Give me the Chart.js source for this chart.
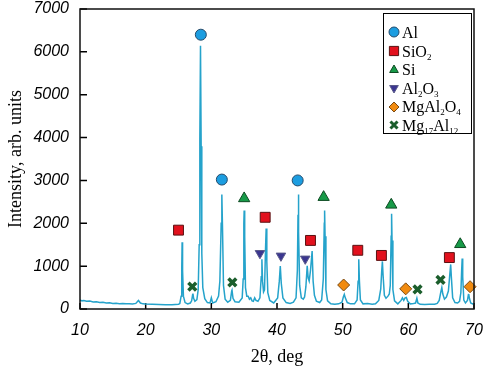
<!DOCTYPE html>
<html>
<head>
<meta charset="utf-8">
<script src="https://cdn.jsdelivr.net/npm/chart.js@4.4.1/dist/chart.umd.min.js"></script>
<style>
  html, body { margin: 0; padding: 0; background: #fff; }
  #wrap { position: relative; width: 483px; height: 368px; }
  #legend {
    position: absolute; left: 383px; top: 13px; width: 89px; height: 121px;
    border: 1px solid #000; background: #fff;
    font-family: "Liberation Serif", serif; font-size: 16px; color: #000;
    padding-top: 10px; box-sizing: border-box;
  }
  #legend div { height: 18.6px; line-height: 18px; white-space: nowrap; }
  #legend canvas { vertical-align: middle; margin: 0 2px 0 4px; position: relative; top: -2px; }
  #legend sub { font-size: 9px; vertical-align: -3px; line-height: 0; }
</style>
</head>
<body>
<div id="wrap">
  <canvas id="output" width="483" height="368"></canvas>
  <div id="legend"></div>
</div>
<script>
// measured profile, 2θ (deg) and intensity (arb. units)
const twoTheta = [
  10.0, 10.3, 10.6, 11.0, 11.5, 12.0, 12.5, 13.0, 13.5, 14.0, 14.5, 15.0, 15.5, 16.0, 16.5, 17.0, 17.5, 18.0, 18.5, 18.9,
  19.2, 19.6, 20.0, 21.0, 22.0, 23.0, 24.0, 25.0, 25.2, 25.4, 25.5, 25.55, 25.62, 25.75, 26.0, 26.4,
  26.8, 27.0, 27.15, 27.2, 27.3, 27.5, 27.8, 28.0, 28.15, 28.25, 28.35, 28.45, 28.55, 28.7, 29.0, 29.4,
  29.8, 30.0, 30.2, 30.7, 31.1, 31.3, 31.5, 31.6, 31.7, 31.85, 32.1, 32.5, 32.9, 33.1, 33.15, 33.3, 33.6,
  34.2, 34.7, 34.85, 34.95, 35.0, 35.08, 35.2, 35.4, 35.6, 35.8, 36.0, 36.2, 36.4, 36.6, 36.8, 37.1,
  37.4, 37.6, 37.7, 37.8, 37.95, 38.1, 38.25, 38.35, 38.45, 38.6, 38.9, 39.5, 40.1, 40.35, 40.5, 40.65, 40.9,
  41.4, 42.0, 42.5, 42.9, 43.1, 43.2, 43.25, 43.32, 43.45, 43.7, 44.0, 44.2, 44.4, 44.6, 44.75, 44.9,
  45.1, 45.35, 45.5, 45.7, 46.0, 46.5, 46.8, 47.05, 47.2, 47.25, 47.32, 47.45, 47.7, 48.2, 48.8, 49.4,
  49.9, 50.1, 50.25, 50.4, 50.7, 51.2, 51.8, 52.2, 52.35, 52.45, 52.55, 52.7, 53.1, 53.8, 54.5, 55.0,
  55.5, 55.8, 55.95, 56.05, 56.15, 56.35, 56.6, 56.9, 57.1, 57.25, 57.38, 57.45, 57.52, 57.65, 57.9, 58.4,
  58.9, 59.1, 59.3, 59.5, 59.7, 59.9, 60.3, 60.8, 61.1, 61.3, 61.45, 61.8, 62.5, 63.2, 64.0, 64.4,
  64.7, 64.95, 65.1, 65.25, 65.5, 65.8, 66.1, 66.3, 66.45, 66.55, 66.75, 67.1, 67.5, 67.8, 68.0, 68.12,
  68.2, 68.28, 68.45, 68.7, 69.0, 69.15, 69.2, 69.3, 69.5, 69.8, 70.0
];
const intensity = [
  210, 190, 200, 180, 185, 165, 170, 150, 155, 140, 145, 130, 135, 125, 130, 120, 125, 115, 130, 200,
  140, 120, 115, 110, 105, 100, 100, 110, 130, 300, 1000, 1560, 900, 300, 150, 120,
  140, 190, 330, 360, 250, 180, 220, 450, 1500, 4000, 6140, 3800, 1300, 500, 240, 150,
  140, 260, 140, 170, 300, 650, 2000, 2670, 1900, 550, 230, 160, 200, 420, 440, 250, 170,
  160, 260, 700, 2000, 2300, 1700, 500, 300, 300, 230, 260, 190, 180, 260, 200, 180,
  260, 750, 1160, 650, 400, 450, 1400, 1880, 1100, 380, 200, 140, 260, 650, 1000, 600, 260,
  150, 130, 160, 260, 900, 2200, 2670, 1800, 550, 260, 230, 280, 520, 1010, 720, 650,
  900, 1350, 650, 320, 180, 150, 210, 700, 2000, 2300, 1700, 450, 190, 120, 110, 120,
  160, 280, 340, 260, 150, 120, 120, 210, 650, 1160, 650, 210, 120, 130, 110, 120,
  200, 470, 900, 1110, 800, 320, 250, 300, 350, 550, 1700, 2220, 1600, 450, 190, 120,
  200, 260, 200, 260, 270, 180, 120, 130, 140, 250, 140, 110, 105, 108, 110, 130,
  200, 400, 500, 350, 230, 280, 420, 780, 1040, 750, 260, 150, 140, 180, 380, 900,
  1180, 750, 210, 140, 200, 340, 350, 250, 140, 120, 130
];

// phase markers: [2θ, intensity]
const alPeaks = [[28.4, 6400], [31.6, 3020], [43.15, 3000]];
const sio2Peaks = [[25.0, 1840], [38.2, 2140], [45.1, 1600], [52.3, 1370], [55.9, 1250], [66.25, 1200]];
const siPeaks = [[35.0, 2580], [47.1, 2610], [57.4, 2430], [67.9, 1510]];
const al2o3Peaks = [[37.4, 1300], [40.6, 1240], [44.3, 1170]];
const mgal2o4Peaks = [[50.15, 560], [59.6, 470], [69.4, 520]];
const mg17al12Peaks = [[27.1, 520], [33.2, 620], [61.4, 460], [64.9, 680]];

const xTicks = [10, 20, 30, 40, 50, 60, 70];
const yTicks = [0, 1000, 2000, 3000, 4000, 5000, 6000, 7000];

const phases = [
  { label: "Al", html: "Al", data: alPeaks, style: "circle", rotation: 0, radius: 5.5, fill: "#1c9de0", border: "#244a6a", width: 1 },
  { label: "SiO2", html: "SiO<sub>2</sub>", data: sio2Peaks, style: "rect", rotation: 0, radius: 7, fill: "#e2111d", border: "#5a1212", width: 1 },
  { label: "Si", html: "Si", data: siPeaks, style: "triangle", rotation: 0, radius: 6.5, fill: "#179a48", border: "#0d4a22", width: 1 },
  { label: "Al2O3", html: "Al<sub>2</sub>O<sub>3</sub>", data: al2o3Peaks, style: "triangle", rotation: 180, radius: 5.5, fill: "#3b3690", border: "#5a5a8a", width: 1 },
  { label: "MgAl2O4", html: "MgAl<sub>2</sub>O<sub>4</sub>", data: mgal2o4Peaks, style: "rectRot", rotation: 0, radius: 6, fill: "#f18b10", border: "#7a4a12", width: 1 },
  { label: "Mg17Al12", html: "Mg<sub>17</sub>Al<sub>12</sub>", data: mg17al12Peaks, style: "crossRot", rotation: 0, radius: 5.5, fill: "#1b5e2c", border: "#1b5e2c", width: 3.5 }
];

const frameAndTicks = {
  id: "frameAndTicks",
  beforeDatasetsDraw(chart) {
    const { ctx, chartArea: a, scales: { x, y } } = chart;
    ctx.save();
    ctx.strokeStyle = "#000";
    ctx.lineWidth = 1.5;
    ctx.beginPath();
    xTicks.forEach(v => { const px = x.getPixelForValue(v); ctx.moveTo(px, a.bottom); ctx.lineTo(px, a.bottom - 6); });
    yTicks.forEach(v => { const py = y.getPixelForValue(v); ctx.moveTo(a.left, py); ctx.lineTo(a.left + 7, py); });
    ctx.stroke();
    ctx.restore();
  },
  afterDatasetsDraw(chart) {
    const { ctx, chartArea: a } = chart;
    ctx.save();
    ctx.strokeStyle = "#111";
    ctx.lineWidth = 1.5;
    ctx.strokeRect(a.left, a.top, a.right - a.left, a.bottom - a.top);
    ctx.restore();
  }
};

const datasets = [{
  label: "pattern",
  type: "line",
  data: twoTheta.map((t, i) => ({ x: t, y: intensity[i] })),
  borderColor: "#25a3cb",
  borderWidth: 1.5,
  pointRadius: 0,
  tension: 0,
  order: 2
}];
phases.forEach(p => {
  datasets.push({
    label: p.label,
    type: "scatter",
    data: p.data.map(d => ({ x: d[0], y: d[1] })),
    pointStyle: p.style,
    rotation: p.rotation,
    pointRadius: p.radius,
    backgroundColor: p.fill,
    borderColor: p.border,
    borderWidth: p.width,
    clip: false,
    order: 1
  });
});

const tickFont = { family: "Liberation Sans", size: 16, style: "italic" };
const titleFont = { family: "Liberation Serif", size: 18 };

const chart = new Chart(document.getElementById("output"), {
  type: "scatter",
  data: { datasets: datasets },
  options: {
    responsive: false,
    animation: false,
    layout: { padding: 0 },
    plugins: { legend: { display: false }, tooltip: { enabled: false } },
    scales: {
      x: {
        type: "linear",
        min: 10,
        max: 70,
        afterBuildTicks: s => { s.ticks = xTicks.map(v => ({ value: v })); },
        afterFit: s => { s.height = 59; s.paddingLeft = 0; s.paddingRight = 9; },
        grid: { display: false },
        border: { display: false },
        ticks: { font: tickFont, color: "#000", padding: 4, callback: v => String(v) },
        title: { display: true, text: "2θ, deg", font: titleFont, color: "#000", padding: { top: 4, bottom: 0 } }
      },
      y: {
        min: 0,
        max: 7000,
        afterBuildTicks: s => { s.ticks = yTicks.map(v => ({ value: v })); },
        afterFit: s => { s.width = 80; s.paddingTop = 8; s.paddingBottom = 0; },
        grid: { display: false },
        border: { display: false },
        ticks: { font: tickFont, color: "#000", padding: 3, callback: v => String(v) },
        title: { display: true, text: "Intensity, arb. units", font: titleFont, color: "#000", padding: { top: 5, bottom: 4 } }
      }
    }
  },
  plugins: [frameAndTicks]
});

// legend box with subscripts
const legend = document.getElementById("legend");
phases.forEach(p => {
  const row = document.createElement("div");
  const icon = document.createElement("canvas");
  icon.width = 12; icon.height = 12;
  const c = icon.getContext("2d");
  c.fillStyle = p.fill;
  c.strokeStyle = p.border;
  c.lineWidth = p.width === 1 ? 1 : 3;
  if (Chart.helpers && Chart.helpers.drawPoint) {
    Chart.helpers.drawPoint(c, { pointStyle: p.style, rotation: p.rotation, radius: p.style === "rect" ? 6.5 : 5, borderWidth: c.lineWidth }, 6, 6);
  }
  row.appendChild(icon);
  const span = document.createElement("span");
  span.innerHTML = p.html;
  row.appendChild(span);
  legend.appendChild(row);
});
</script>
</body>
</html>
